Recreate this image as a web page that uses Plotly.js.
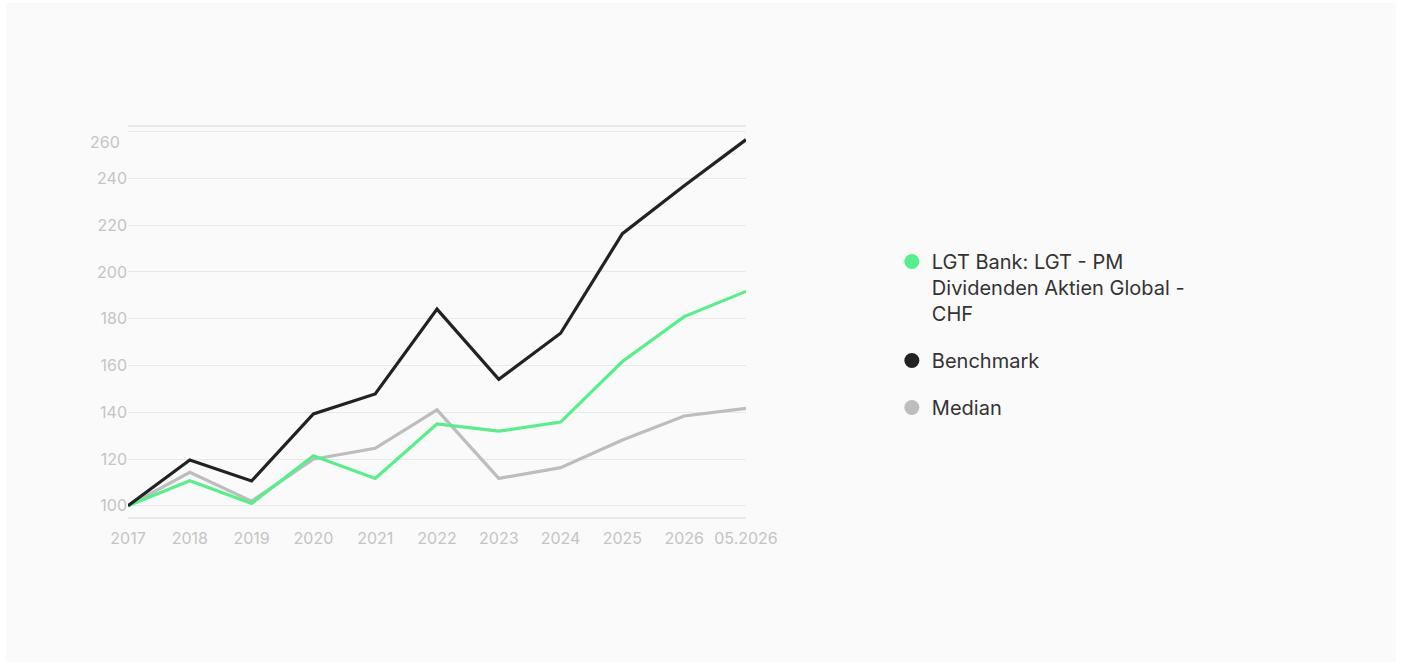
<!DOCTYPE html>
<html>
<head>
<meta charset="utf-8">
<script src="https://cdn.plot.ly/plotly-3.0.1.min.js"></script>
<style>
  html, body { margin: 0; padding: 0; background: #ffffff; }
  #card { position: absolute; left: 6px; top: 3px; width: 1390px; height: 659px; background: #fafafa; }
  #chart { width: 1390px; height: 659px; }
</style>
</head>
<body>
<div id="card"><div id="chart"></div></div>
<script>
const categories = ['2017', '2018', '2019', '2020', '2021', '2022', '2023', '2024', '2025', '2026', '05.2026'];
const fundName = 'LGT Bank: LGT - PM<br>Dividenden Aktien Global -<br>CHF';
const fundValues = [100, 110.7, 101, 121.4, 111.7, 135, 131.9, 135.8, 161.7, 180.9, 191.7];
const benchmarkValues = [100, 119.6, 110.6, 139.3, 147.8, 184.1, 154.1, 173.8, 216.4, 236.9, 256.6];
const medianValues = [100, 114.3, 102, 119.9, 124.6, 141, 111.7, 116.3, 128.1, 138.4, 141.7];
const yTicks = [100, 120, 140, 160, 180, 200, 220, 240, 260];
const yTickText = ['100', '120', '140', '160', '180', '200', '220', '240', ''];

const series = [
  { name: fundName, values: fundValues, color: '#55f08a', group: 'fund' },
  { name: 'Benchmark', values: benchmarkValues, color: '#222222', group: 'bench' },
  { name: 'Median', values: medianValues, color: '#bdbdbd', group: 'median' }
];

const traces = [];
// draw order: median, fund, benchmark on top
[series[2], series[0], series[1]].forEach(s => {
  traces.push({
    x: categories, y: s.values, type: 'scatter', mode: 'lines',
    line: { color: s.color, width: 3.2 },
    name: s.name, legendgroup: s.group, showlegend: false,
    hoverinfo: 'x+y'
  });
});
series.forEach(s => {
  traces.push({
    x: [null], y: [null], type: 'scatter', mode: 'markers',
    marker: { color: s.color, size: 15, symbol: 'circle' },
    name: s.name, legendgroup: s.group, showlegend: true
  });
});

const layout = {
  width: 1390, height: 659,
  paper_bgcolor: 'rgba(0,0,0,0)', plot_bgcolor: 'rgba(0,0,0,0)',
  margin: { l: 122, r: 650, t: 124, b: 145 },
  font: { family: 'Inter, Lato, sans-serif', color: '#c4c4c4', size: 16 },
  showlegend: true,
  xaxis: {
    type: 'category', range: [0, 10],
    showgrid: false, zeroline: false,
    showline: true, mirror: true, linecolor: '#e8e8e8', linewidth: 1.5,
    ticks: '', ticklen: 0, ticklabelstandoff: 6,
    tickfont: { size: 16, color: '#c4c4c4' }
  },
  yaxis: {
    range: [95.2, 262],
    tickvals: yTicks, ticktext: yTickText,
    showgrid: true, gridcolor: '#e9e9e9', gridwidth: 1,
    zeroline: false, showline: false, ticks: '',
    tickfont: { size: 16, color: '#c4c4c4' }
  },
  annotations: [{
    text: '260', xref: 'paper', yref: 'y', x: 0, y: 260,
    xanchor: 'right', yanchor: 'middle', xshift: -6, yshift: -10,
    showarrow: false, font: { size: 16, color: '#c4c4c4' }
  }],
  legend: {
    x: 1.236, xanchor: 'left', y: 0.705, yanchor: 'top',
    bgcolor: 'rgba(0,0,0,0)', valign: 'top',
    tracegroupgap: 18,
    font: { size: 20, color: '#333333', family: 'Inter, Lato, sans-serif' }
  }
};

Plotly.newPlot('chart', traces, layout, { displayModeBar: false });
</script>
</body>
</html>
